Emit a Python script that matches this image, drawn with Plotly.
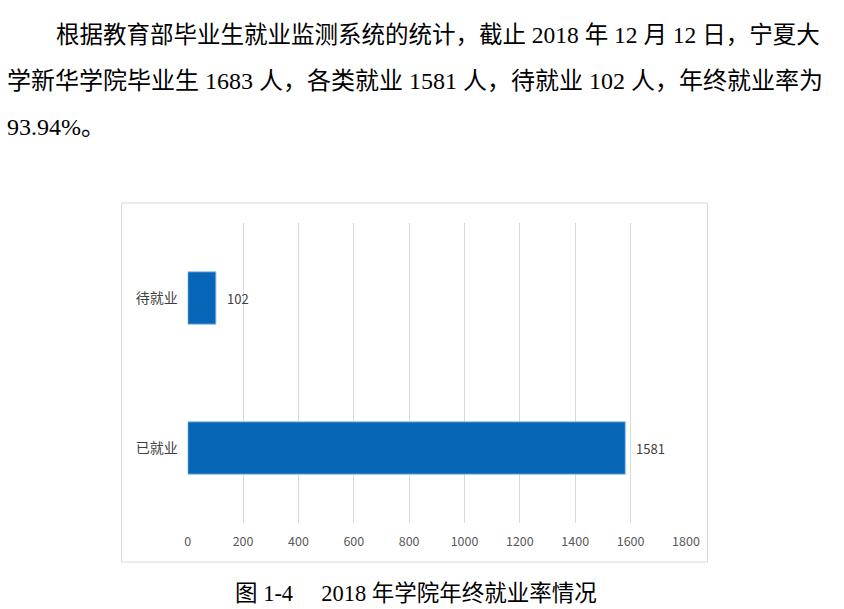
import plotly.graph_objects as go

# ---- data ----
categories = ["已就业", "待就业"]
values = [1581, 102]
x_ticks = [0, 200, 400, 600, 800, 1000, 1200, 1400, 1600, 1800]

para_lines = [
    "根据教育部毕业生就业监测系统的统计，截止 2018 年 12 月 12 日，宁夏大",
    "学新华学院毕业生 1683 人，各类就业 1581 人，待就业 102 人，年终就业率为",
    "93.94%。",
]
caption = "图 1-4　 2018 年学院年终就业率情况"

W, H = 844, 609


def px(x):
    return x / W


def py(y):
    return 1 - y / H


fig = go.Figure()
fig.add_trace(go.Bar(
    y=categories, x=values, orientation="h",
    marker=dict(color="#0866b8", line=dict(color="#9cc4e8", width=1)),
    width=0.35,
    hoverinfo="skip",
))

label_font = dict(family="Noto Sans CJK SC, Liberation Sans", size=13, color="#404040")
serif = "Liberation Serif, Noto Sans CJK SC"
annotations = []
# value labels, placed on the data scales
for c, v in zip(categories, values):
    annotations.append(dict(
        text=str(v), x=v, y=c, xref="x", yref="y",
        xanchor="left", yanchor="middle", xshift=9, showarrow=False,
        font=label_font,
    ))

line_pos = [(52, 35), (2, 81), (2, 127)]
line_sizes = [23.5, 24, 24]
for txt, (x, y), s in zip(para_lines, line_pos, line_sizes):
    annotations.append(dict(
        text=txt, xref="paper", yref="paper", x=px(x), y=py(y),
        xanchor="left", yanchor="middle", showarrow=False,
        font=dict(family=serif, size=s, color="#000000"),
    ))
annotations.append(dict(
    text=caption, xref="paper", yref="paper", x=px(421), y=py(593),
    xanchor="center", yanchor="middle", showarrow=False,
    font=dict(family=serif, size=22.5, color="#000000"),
))

fig.update_layout(
    width=W, height=H, autosize=False,
    margin=dict(l=0, r=0, t=0, b=0),
    paper_bgcolor="white", plot_bgcolor="white",
    showlegend=False,
    annotations=annotations,
    shapes=[dict(
        type="rect", xref="paper", yref="paper",
        x0=px(121), x1=px(719), y0=py(562), y1=py(203),
        line=dict(color="#d9d9d9", width=1), fillcolor="rgba(0,0,0,0)",
        layer="below",
    )],
    xaxis=dict(
        domain=[px(188.5), px(697)], range=[0, 1800],
        tickvals=x_ticks, ticktext=[str(v) for v in x_ticks],
        showgrid=True, gridcolor="#d9d9d9", gridwidth=1,
        zeroline=False, showline=False, ticks="",
        tickfont=dict(family="Noto Sans CJK SC, Liberation Sans", size=12.5, color="#595959"),
        ticklabelstandoff=9,
    ),
    yaxis=dict(
        domain=[py(523), py(223)],
        categoryorder="array", categoryarray=categories,
        showgrid=False, zeroline=False, showline=False, ticks="",
        tickfont=dict(family="Noto Sans CJK SC", size=14, color="#404040"),
        ticklabelstandoff=9,
    ),
)

fig.write_html(
    "out.html",
    config={"responsive": False, "displayModeBar": False},
    post_script=(
        "document.documentElement.style.overflow='hidden';"
        "document.body.style.margin='0';"
        "document.body.style.overflow='hidden';"
    ),
)
